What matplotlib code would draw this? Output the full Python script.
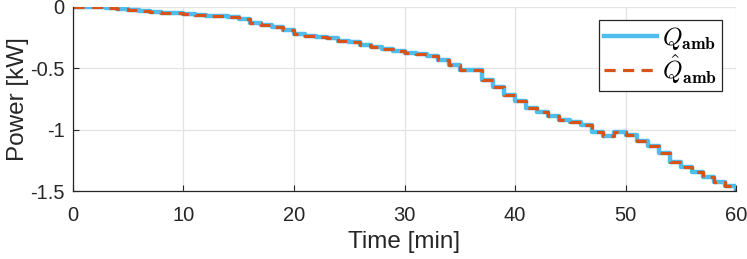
import numpy as np
import matplotlib.pyplot as plt

# ambient heat flow at 1-minute resolution
time_min = list(range(61))
q_amb = [
    0.0, 0.0, 0.0, -0.008, -0.016, -0.024, -0.033, -0.041, -0.049, -0.053,
    -0.057, -0.065, -0.073, -0.077, -0.081, -0.098, -0.130, -0.146, -0.163, -0.187,
    -0.220, -0.236, -0.244, -0.252, -0.276, -0.285, -0.309, -0.325, -0.341, -0.358,
    -0.374, -0.382, -0.398, -0.431, -0.472, -0.512, -0.512, -0.593, -0.650, -0.715,
    -0.764, -0.821, -0.854, -0.886, -0.919, -0.935, -0.959, -1.016, -1.049, -1.016,
    -1.041, -1.089, -1.130, -1.187, -1.260, -1.301, -1.341, -1.382, -1.423, -1.463,
    -1.496,
]
q_amb_hat = list(q_amb)

xticks = [0, 10, 20, 30, 40, 50, 60]
yticks = [-1.5, -1, -0.5, 0]
ytick_labels = ["-1.5", "-1", "-0.5", "0"]

plt.rcParams["font.family"] = ["Liberation Sans", "DejaVu Sans"]
plt.rcParams["mathtext.fontset"] = "cm"

fig = plt.figure(figsize=(7.47, 2.59), dpi=100)
ax = fig.add_axes([0.0977, 0.2625, 0.8876, 0.7105])

ax.plot(time_min, q_amb, color="#4DBEEE", linewidth=3.2,
        drawstyle="steps-post", label=r"$Q_{\mathbf{amb}}$")
ax.plot(time_min, q_amb_hat, color="#D95319", linewidth=2.3, linestyle=(0, (3.5, 2.3)),
        drawstyle="steps-post", label=r"$\hat{Q}_{\mathbf{amb}}$")

ax.set_xlim(0, 60)
ax.set_ylim(-1.5, 0)
ax.set_xticks(xticks)
ax.set_yticks(yticks)
ax.set_yticklabels(ytick_labels)
ax.tick_params(direction="in", length=4, labelsize=14.5, colors="#262626")
ax.tick_params(axis="x", pad=11)
ax.tick_params(axis="y", pad=6)
ax.grid(True, color="#e3e3e3", linewidth=0.9)
ax.set_axisbelow(True)
for side in ["top", "right"]:
    ax.spines[side].set_visible(False)
for side in ["left", "bottom"]:
    ax.spines[side].set_color("#262626")
    ax.spines[side].set_linewidth(0.9)

ax.set_xlabel("Time [min]", fontsize=17.5, color="#262626", labelpad=4)
ax.set_ylabel("Power [kW]", fontsize=17.5, color="#262626", labelpad=1)

leg = ax.legend(loc="upper right", bbox_to_anchor=(0.979, 0.93), fontsize=18,
                fancybox=False, framealpha=1, edgecolor="#262626",
                handlelength=2.1, handletextpad=0.2, borderpad=0.2,
                labelspacing=0.0, borderaxespad=0)
leg.get_frame().set_linewidth(0.9)

fig.savefig("out.png", dpi=100)
